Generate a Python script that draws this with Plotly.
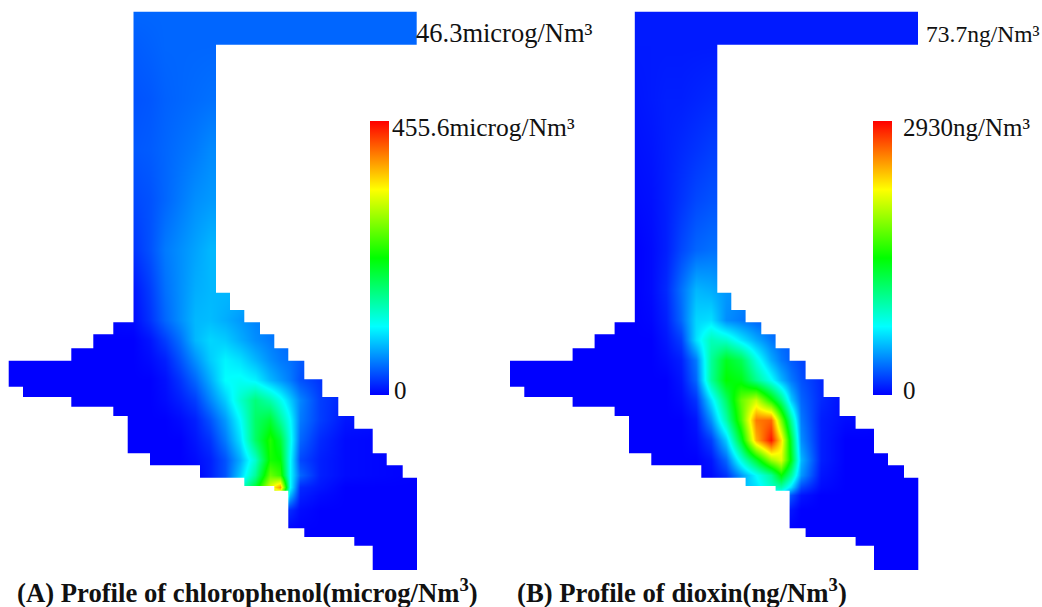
import plotly.graph_objects as go

GRID_X = [9, 70, 133, 150, 165, 180, 195, 210, 225, 240, 255, 270, 280, 290, 300, 320, 345, 417]
GRID_Y = [12, 45, 100, 150, 200, 250, 290, 320, 340, 360, 380, 400, 420, 440, 460, 475, 487, 495, 510, 530, 570]

# percent of each scale's maximum
PCT_A = [
    [10, 10, 10, 10, 10, 10, 10, 10, 10, 10, 10, 10, 10, 10, 10, 10, 10, 10],
    [9, 9, 9, 9.5, 10, 10, 10, 10, 10, 10, 10, 10, 10, 10, 10, 10, 10, 10],
    [8, 8, 8, 8.5, 9.5, 10, 10.5, 11, 11, 11, 11, 11, 11, 11, 11, 11, 11, 11],
    [8, 8, 8.5, 9, 10, 11, 12, 13.5, 13.5, 13.5, 13.5, 13.5, 13.5, 13.5, 13.5, 13.5, 13.5, 13.5],
    [7, 7, 7, 8, 10, 12, 14, 15, 15, 15, 15, 15, 15, 15, 15, 15, 15, 15],
    [4, 4, 5, 8, 12, 14, 16, 18, 18, 18, 18, 18, 18, 18, 18, 18, 18, 18],
    [0, 0, 2, 6, 11, 14, 17, 18, 18, 18, 17, 16, 15, 14, 13, 12, 11, 10],
    [0, 0, 1, 5, 10, 14, 18, 18.5, 17, 15, 13, 12, 11, 10, 9, 8, 7, 6],
    [0, 0, 0, 2, 6, 11, 18, 21, 20, 17, 14, 12, 11, 10, 9, 8, 7, 6],
    [0, 0, 0, 1, 3, 8, 14, 20, 24, 22, 18, 14, 12, 11, 9, 7, 5, 4],
    [0, 0, 0, 0, 1.5, 5, 10, 17, 25, 26, 24, 18, 15, 12, 8, 5, 3, 2],
    [0, 0, 0, 0, 1, 3, 6, 13, 20, 30, 38, 33, 27, 20, 13, 6, 3, 1],
    [0, 0, 0, 0, 0, 1, 3, 8, 15, 25, 40, 45, 35, 25, 12, 6, 2, 1],
    [0, 0, 0, 0, 0, 0, 2, 5, 12, 22, 40, 53, 45, 27, 10, 4, 1, 0],
    [0, 0, 0, 0, 0, 0, 1, 3, 8, 17, 30, 52, 50, 25, 7, 3, 1, 0],
    [0, 0, 0, 0, 0, 0, 0, 3, 8, 20, 35, 60, 55, 25, 10, 3, 1, 0],
    [0, 0, 0, 0, 0, 0, 0, 3, 10, 28, 45, 72, 85, 25, 4, 2, 0, 0],
    [0, 0, 0, 0, 0, 0, 0, 2, 8, 25, 40, 60, 60, 18, 3, 1, 0, 0],
    [0, 0, 0, 0, 0, 0, 0, 0, 0, 0, 0, 0, 0, 4, 1, 0, 0, 0],
    [0, 0, 0, 0, 0, 0, 0, 0, 0, 0, 0, 0, 0, 0, 0, 0, 0, 0],
    [0, 0, 0, 0, 0, 0, 0, 0, 0, 0, 0, 0, 0, 0, 0, 0, 0, 0],
]
PCT_B = [
    [2.5, 2.5, 2.5, 2.5, 2.5, 2.5, 2.5, 2.5, 2.5, 2.5, 2.5, 2.5, 2.5, 2.5, 2.5, 2.5, 2.5, 2.5],
    [2.5, 2.5, 2.5, 2.5, 2.5, 2.5, 2.5, 2.5, 2.5, 2.5, 2.5, 2.5, 2.5, 2.5, 2.5, 2.5, 2.5, 2.5],
    [2, 2, 2, 2.5, 3, 3, 3.5, 4, 4, 4, 4, 4, 4, 4, 4, 4, 4, 4],
    [1.5, 1.5, 1.5, 2, 3, 4, 5, 6, 6, 6, 6, 6, 6, 6, 6, 6, 6, 6],
    [1, 1, 1, 1.5, 3, 5, 7, 8, 8, 8, 8, 8, 8, 8, 8, 8, 8, 8],
    [0, 0, 0, 1, 3, 7, 10, 11, 11, 11, 11, 11, 11, 11, 11, 11, 11, 11],
    [0, 0, 0, 1, 4, 11, 18, 17, 15, 14, 13, 12, 11, 11, 10, 10, 10, 10],
    [0, 0, 0, 0.5, 3, 10, 21, 22, 14, 12, 10, 9, 9, 8, 8, 7, 7, 6],
    [0, 0, 0, 0, 2, 6, 22, 32, 30, 23, 17, 12, 10, 9, 8, 7, 6, 5],
    [0, 0, 0, 0, 1, 3, 12, 35, 47, 42, 28, 17, 12, 9, 7, 5, 4, 3],
    [0, 0, 0, 0, 0, 2, 10, 35, 50, 48, 36, 26, 18, 12, 8, 4, 2, 1],
    [0, 0, 0, 0, 0, 1, 5, 22, 40, 60, 70, 52, 38, 20, 10, 4, 1, 0],
    [0, 0, 0, 0, 0, 0, 2, 14, 33, 57, 88, 90, 62, 35, 12, 3, 1, 0],
    [0, 0, 0, 0, 0, 0, 1, 6, 20, 46, 82, 98, 78, 45, 14, 3, 0, 0],
    [0, 0, 0, 0, 0, 0, 0, 2, 10, 28, 45, 65, 72, 48, 18, 3, 0, 0],
    [0, 0, 0, 0, 0, 0, 0, 1, 5, 15, 25, 35, 50, 35, 15, 2, 0, 0],
    [0, 0, 0, 0, 0, 0, 0, 0, 3, 18, 22, 30, 33, 22, 7, 1, 0, 0],
    [0, 0, 0, 0, 0, 0, 0, 0, 2, 10, 15, 20, 20, 8, 2, 0, 0, 0],
    [0, 0, 0, 0, 0, 0, 0, 0, 0, 0, 0, 0, 0, 2, 0, 0, 0, 0],
    [0, 0, 0, 0, 0, 0, 0, 0, 0, 0, 0, 0, 0, 0, 0, 0, 0, 0],
    [0, 0, 0, 0, 0, 0, 0, 0, 0, 0, 0, 0, 0, 0, 0, 0, 0, 0],
]

MAX_A = 455.6
MAX_B = 2930

LABEL_TEXTS = ["46.3microg/Nm³", "455.6microg/Nm³", "0", "73.7ng/Nm³", "2930ng/Nm³", "0"]
CAPTION_TEXTS = ["(A) Profile of chlorophenol(microg/Nm<sup>3</sup>)", "(B) Profile of dioxin(ng/Nm<sup>3</sup>)"]

PANEL_B_SHIFT = 501.3
OUTLINE_X = [133.5, 416.7, 416.7, 216, 216, 230, 230, 244.3, 244.3, 260, 260, 274.3, 274.3, 288.3, 288.3,
             304.3, 304.3, 322.3, 322.3, 338.3, 338.3, 354.3, 354.3, 372.7, 372.7, 386.7, 386.7, 402.7, 402.7,
             417, 417, 372.7, 372.7, 354.3, 354.3, 304.3, 304.3, 288.3, 288.3, 274.3, 274.3, 244.3, 244.3,
             200, 200, 150, 150, 127.7, 127.7, 113.3, 113.3, 71.3, 71.3, 23, 23, 8.7, 8.7, 71.3, 71.3, 93.3,
             93.3, 113.3, 113.3, 133.5, 133.5]
OUTLINE_Y = [11.7, 11.7, 44.7, 44.7, 292.7, 292.7, 310, 310, 322.3, 322.3, 334.3, 334.3, 348.3, 348.3, 360.7,
             360.7, 379.3, 379.3, 397, 397, 416, 416, 428.7, 428.7, 453.3, 453.3, 465.3, 465.3, 477.7, 477.7,
             570, 570, 545.7, 545.7, 537, 537, 528.3, 528.3, 490.7, 490.7, 486, 486, 477.7, 477.7, 465.3,
             465.3, 453.3, 453.3, 416, 416, 406.7, 406.7, 397, 397, 386.7, 386.7, 360.7, 360.7, 348.3, 348.3,
             334.3, 334.3, 322.3, 322.3, 11.7]

RAINBOW = [[0, "#0000ff"], [0.25, "#00ffff"], [0.5, "#00ff00"], [0.75, "#ffff00"], [1, "#ff0000"]]


def mask(shift, x0, x1):
    # a keyhole polygon: outer box one way round, the duct outline the other way round
    xs = [x0, x1, x1, x0, x0] + [x + shift for x in reversed(OUTLINE_X)] + [x0]
    ys = [-10, -10, 606, 606, -10] + list(reversed(OUTLINE_Y)) + [-10]
    return go.Scatter(x=xs, y=ys, mode="lines", fill="toself", fillcolor="white",
                      line=dict(width=0), hoverinfo="skip", showlegend=False)


fig = go.Figure()
for pct, top, shift, axis in [(PCT_A, MAX_A, 0, "coloraxis"), (PCT_B, MAX_B, PANEL_B_SHIFT, "coloraxis2")]:
    fig.add_trace(go.Heatmap(x=[v + shift for v in GRID_X], y=GRID_Y,
                             z=[[p * top / 100 for p in row] for row in pct],
                             zsmooth="best", coloraxis=axis))
fig.add_trace(mask(0, -30, 480))
fig.add_trace(mask(PANEL_B_SHIFT, 480, 1000))


def bar(top, left):
    return dict(cmin=0, cmax=top, colorscale=RAINBOW,
                colorbar=dict(x=left / 1042, xanchor="left", xpad=0, thickness=19, thicknessmode="pixels",
                              y=1 - 395 / 607, yanchor="bottom", ypad=0, len=274, lenmode="pixels",
                              outlinewidth=0, showticklabels=False, ticks=""))


label_x = [414, 390, 392, 924, 901, 901]
label_y = [33, 127, 390, 34, 127, 390]
label_size = [26.5, 25.5, 25, 23.5, 25, 25]
annotations = [dict(x=x, y=y, text=t, xref="x", yref="y", xanchor="left", yanchor="middle", showarrow=False,
                    font=dict(family="Liberation Serif", size=s, color="#111111"))
               for x, y, t, s in zip(label_x, label_y, LABEL_TEXTS, label_size)]
annotations += [dict(x=x, y=591, text="<b>%s</b>" % t, xref="x", yref="y", xanchor="left", yanchor="middle",
                     showarrow=False, font=dict(family="Liberation Serif", size=26.7, color="#111111"))
                for x, t in zip([15, 515], CAPTION_TEXTS)]

fig.update_layout(width=1042, height=607, margin=dict(l=0, r=0, t=0, b=0), plot_bgcolor="white",
                  paper_bgcolor="white", showlegend=False,
                  coloraxis=bar(MAX_A, 369.5), coloraxis2=bar(MAX_B, 872.5),
                  xaxis=dict(range=[0, 1042], visible=False, fixedrange=True),
                  yaxis=dict(range=[607, 0], visible=False, fixedrange=True),
                  annotations=annotations)
fig.write_html("out.html", config=dict(displayModeBar=False), post_script="document.body.style.margin='0';")
